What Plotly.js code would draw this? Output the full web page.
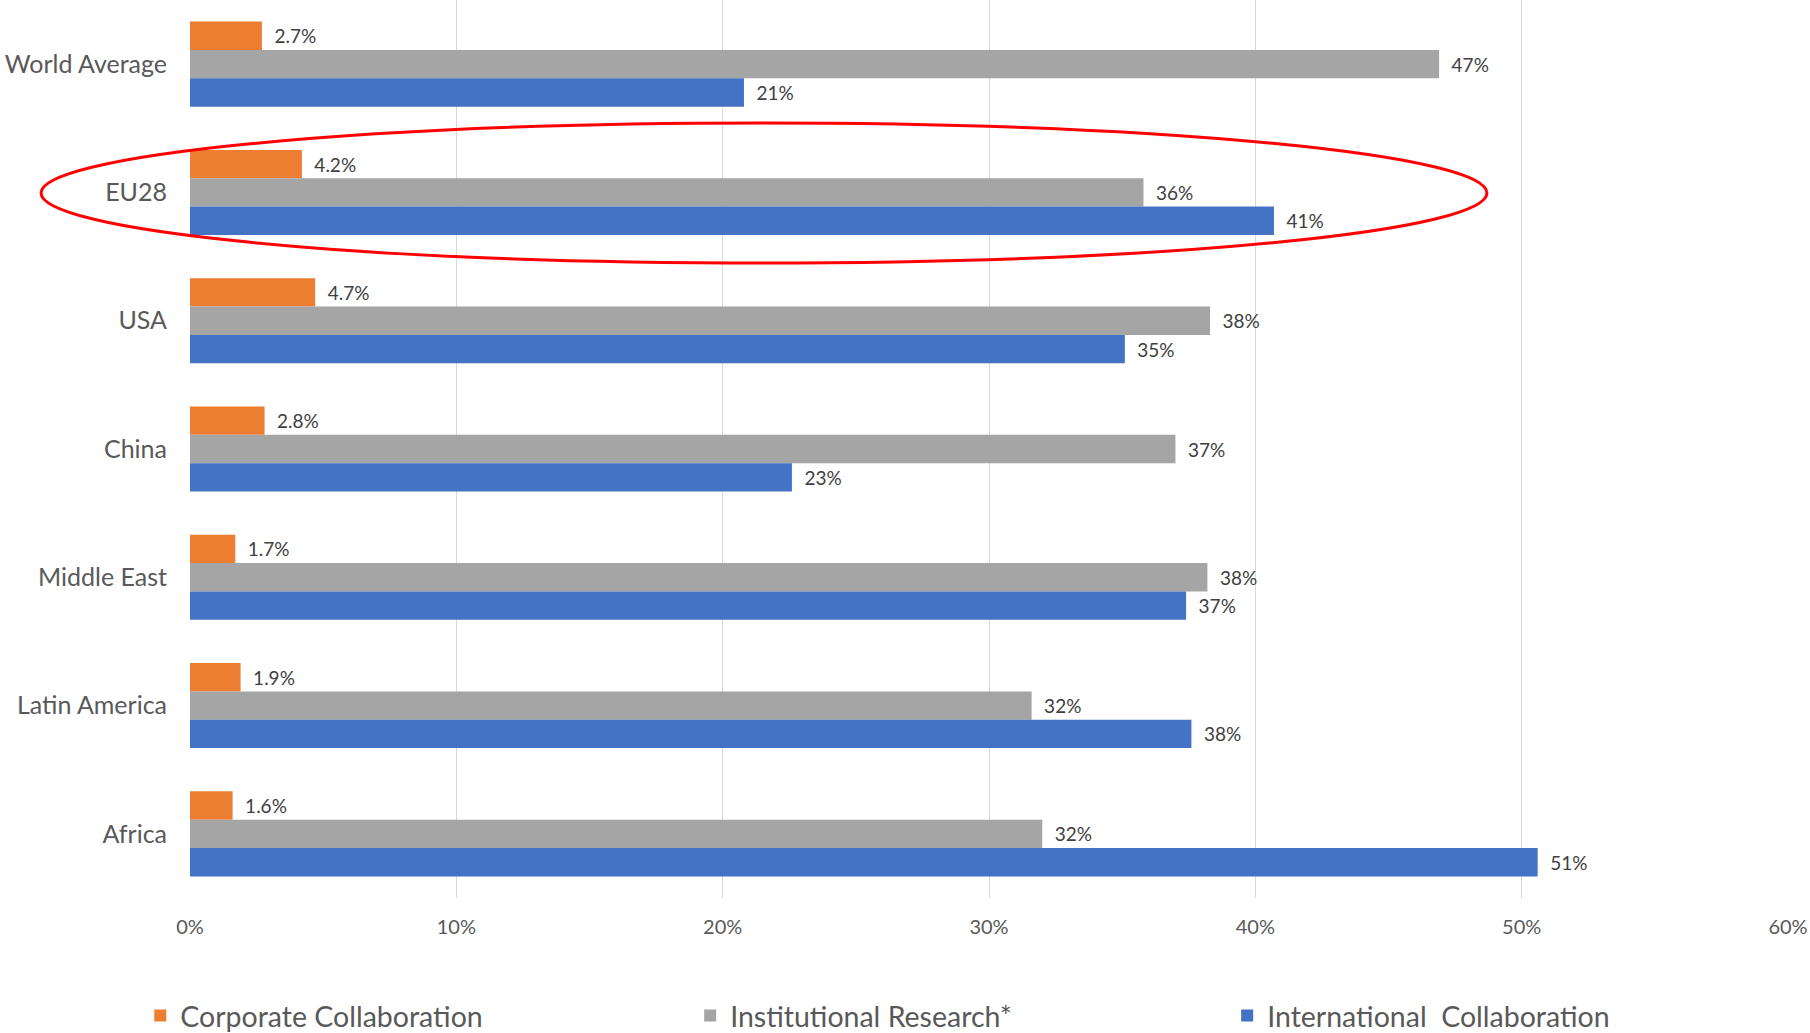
<!DOCTYPE html>
<html>
<head>
<meta charset="utf-8">
<script src="https://cdn.plot.ly/plotly-3.0.1.min.js"></script>
<style>
  html, body { margin: 0; padding: 0; background: #ffffff; }
  #chart { width: 1810px; height: 1033px; }
</style>
</head>
<body>
<div id="chart"></div>
<script>
const categories = ['World Average', 'EU28', 'USA', 'China', 'Middle East', 'Latin America', 'Africa'];
const corporate = [0.027, 0.042, 0.047, 0.028, 0.017, 0.019, 0.016];
const institutional = [0.469, 0.358, 0.383, 0.370, 0.382, 0.316, 0.320];
const international = [0.208, 0.407, 0.351, 0.226, 0.374, 0.376, 0.506];
const seriesNames = ['Corporate Collaboration', 'Institutional Research*', 'International  Collaboration'];
const seriesColors = ['#ED7D31', '#A5A5A5', '#4472C4'];
const xTicks = [0, 0.1, 0.2, 0.3, 0.4, 0.5, 0.6];

const FONT = 'Lato, "Open Sans", sans-serif';
const labelFont = { family: FONT, size: 19, color: '#404040' };
const legendIds = ['legend', 'legend2', 'legend3'];
const legendX = [0.0775, 0.3813, 0.678];

function barTrace(values, i, fmt) {
  return {
    type: 'bar',
    orientation: 'h',
    name: seriesNames[i],
    legend: legendIds[i],
    y: categories,
    x: values,
    marker: { color: seriesColors[i], line: { width: 0 } },
    texttemplate: '\u2002%{x:' + fmt + '}',
    textposition: 'outside',
    textfont: labelFont,
    constraintext: 'none',
    cliponaxis: false,
    hoverinfo: 'skip'
  };
}

const data = [
  barTrace(corporate, 0, '.1%'),
  barTrace(institutional, 1, '.0%'),
  barTrace(international, 2, '.0%')
];

function legendBox(x) {
  return {
    orientation: 'h',
    xref: 'container',
    yref: 'container',
    x: x,
    xanchor: 'left',
    y: 0.0165,
    yanchor: 'middle',
    font: { family: FONT, size: 28.5, color: '#595959' },
    bgcolor: 'rgba(0,0,0,0)',
    borderwidth: 0
  };
}

const layout = {
  width: 1810,
  height: 1033,
  margin: { l: 190, r: 22, t: 0, b: 135, pad: 0 },
  paper_bgcolor: '#ffffff',
  plot_bgcolor: '#ffffff',
  barmode: 'group',
  bargap: 0.337,
  bargroupgap: 0,
  font: { family: FONT, color: '#595959' },
  xaxis: {
    range: [0, 0.6],
    tickvals: xTicks,
    tickformat: '.0%',
    showgrid: true,
    gridcolor: '#D9D9D9',
    gridwidth: 1,
    zeroline: false,
    showline: false,
    ticks: '',
    tickfont: { family: FONT, size: 20, color: '#595959' },
    ticklabelstandoff: 15,
    fixedrange: true
  },
  yaxis: {
    type: 'category',
    autorange: 'reversed',
    showgrid: false,
    zeroline: false,
    showline: false,
    ticks: '',
    tickfont: { family: FONT, size: 25, color: '#595959' },
    ticklabelstandoff: 22,
    fixedrange: true
  },
  showlegend: true,
  legend: legendBox(legendX[0]),
  legend2: legendBox(legendX[1]),
  legend3: legendBox(legendX[2]),
  shapes: [{
    type: 'circle',
    xref: 'paper',
    yref: 'paper',
    x0: -0.0932,
    x1: 0.8116,
    y0: 0.7071,
    y1: 0.863,
    line: { color: '#FF0000', width: 3 },
    fillcolor: 'rgba(0,0,0,0)',
    layer: 'above'
  }]
};

Plotly.newPlot('chart', data, layout, { displayModeBar: false, staticPlot: true });
</script>
</body>
</html>
